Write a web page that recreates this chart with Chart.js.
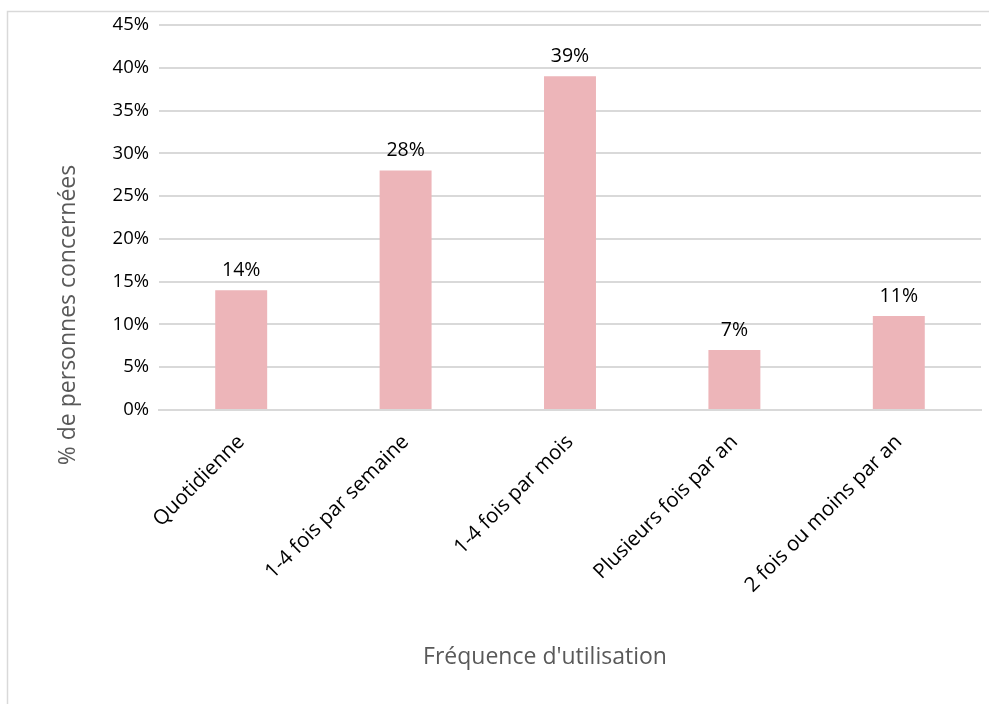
<!DOCTYPE html>
<html>
<head>
<meta charset="utf-8">
<script src="https://cdn.jsdelivr.net/npm/chart.js@4"></script>
<style>
  html, body { margin: 0; padding: 0; background: #fff; }
  #wrap { width: 989px; height: 704px; }
</style>
</head>
<body>
<div id="wrap"><canvas id="freqChart" width="989" height="704"></canvas></div>
<script>
// Fréquence d'utilisation
const categories = [
  'Quotidienne',
  '1-4 fois par semaine',
  '1-4 fois par mois',
  'Plusieurs fois par an',
  '2 fois ou moins par an'
];
const percents = [14, 28, 39, 7, 11];

const yTicks = { min: 0, max: 45, step: 5 };
const xTitle = "Fréquence d'utilisation";
const yTitle = '% de personnes concernées';

// light frame around the chart, plus both axis titles
const frame = {
  id: 'frame',
  beforeDraw(chart) {
    const c = chart.ctx;
    c.save();
    c.strokeStyle = '#d9d9d9';
    c.lineWidth = 1.5;
    c.strokeRect(7.5, 11.5, 1100, 800);
    c.restore();
  },
  afterDraw(chart) {
    const c = chart.ctx;
    c.save();
    c.font = '23px "Open Sans"';
    c.fillStyle = '#595959';
    c.textAlign = 'center';
    c.textBaseline = 'middle';
    c.fillText(xTitle, 545, 657);
    c.translate(68, 315);
    c.rotate(-Math.PI / 2);
    c.fillText(yTitle, 0, 0);
    c.restore();
  }
};

// value labels above each bar
const barLabels = {
  id: 'barLabels',
  afterDatasetsDraw(chart) {
    const c = chart.ctx;
    const meta = chart.getDatasetMeta(0);
    c.save();
    c.font = '19.5px "Open Sans"';
    c.fillStyle = '#000';
    c.textAlign = 'center';
    c.textBaseline = 'alphabetic';
    meta.data.forEach((bar, i) => {
      c.fillText(chart.data.datasets[0].data[i] + '%', bar.x, bar.y - 14);
    });
    c.restore();
  }
};

const ctx = document.getElementById('freqChart');
const freqChart = new Chart(ctx, {
  type: 'bar',
  data: {
    labels: categories,
    datasets: [{
      data: percents,
      backgroundColor: '#edb5b9',
      borderWidth: 0,
      categoryPercentage: 1,
      barPercentage: 0.316,
    }]
  },
  options: {
    responsive: false,
    animation: false,
    layout: { padding: { top: 25, right: 8, left: 0, bottom: 0 } },
    plugins: {
      legend: { display: false },
      tooltip: { enabled: false },
    },
    scales: {
      x: {
        grid: { display: false, drawTicks: false },
        border: { display: true, color: '#d9d9d9', width: 2 },
        ticks: {
          color: '#000',
          font: { family: 'Open Sans', size: 20.5 },
          maxRotation: 45,
          minRotation: 45,
          padding: 20,
        },
        afterFit(scale) { scale.height = 294; },
      },
      y: {
        min: yTicks.min,
        max: yTicks.max,
        grid: { color: '#d9d9d9', lineWidth: 2, drawTicks: false },
        border: { display: false },
        ticks: {
          stepSize: yTicks.step,
          color: '#000',
          font: { family: 'Open Sans', size: 18.5 },
          padding: 10,
          callback: v => v + '%',
        },
        afterFit(scale) { scale.width = 159; },
      }
    }
  },
  plugins: [frame, barLabels]
});
</script>
</body>
</html>
